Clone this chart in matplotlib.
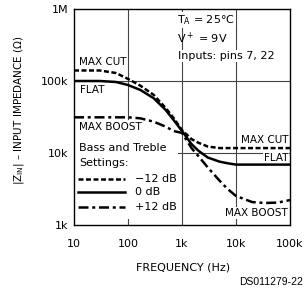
import matplotlib
matplotlib.use('Agg')
import matplotlib.pyplot as plt
from matplotlib.patches import Rectangle

# frequency (Hz) and input impedance (ohm)
freq = [10, 30, 60, 100, 170, 300, 500, 700, 1000, 1500, 2000, 3000, 5000,
        7000, 10000, 20000, 35000, 60000, 100000]
z_flat = [100e3, 100e3, 96.9e3, 88e3, 75e3, 57.5e3, 39.5e3, 28.7e3, 20.2e3,
          13.3e3, 10.8e3, 8.65e3, 7.57e3, 7.2e3, 6.9e3, 6.9e3, 6.9e3, 6.9e3, 6.9e3]
z_cut = [140e3, 140e3, 129e3, 107e3, 86e3, 64e3, 42e3, 30.6e3, 20.8e3,
         15.6e3, 13.9e3, 12.3e3, 11.7e3, 11.7e3, 11.7e3, 11.7e3, 11.7e3, 11.7e3, 11.7e3]
z_boost = [31.3e3, 31.3e3, 31.3e3, 31.3e3, 30.3e3, 27.2e3, 23.2e3, 20.2e3, 19e3,
           11.7e3, 9.1e3, 6.3e3, 4.1e3, 3.16e3, 2.53e3, 2.08e3, 2.02e3, 2.05e3, 2.22e3]

xticks = [10, 100, 1e3, 1e4, 1e5]
xlabels = ['10', '100', '1k', '10k', '100k']
yticks = [1e3, 1e4, 1e5, 1e6]
ylabels = ['1k', '10k', '100k', '1M']

plt.rcParams['font.family'] = 'DejaVu Sans'
plt.rcParams['mathtext.default'] = 'regular'

fig = plt.figure(figsize=(3.05, 2.93), dpi=100)
ax = fig.add_axes([74 / 305, 1 - 225 / 293, 216 / 305, 216 / 293])
ax.set_xscale('log')
ax.set_yscale('log')
ax.set_xlim(10, 1e5)
ax.set_ylim(1e3, 1e6)
ax.set_xticks(xticks)
ax.set_xticklabels(xlabels)
ax.set_yticks(yticks)
ax.set_yticklabels(ylabels)
ax.minorticks_off()
ax.tick_params(length=0, labelsize=8, colors='black')
ax.tick_params(axis='x', pad=10)
ax.tick_params(axis='y', pad=4)
for s in ax.spines.values():
    s.set_linewidth(1.0)

# grid, partly hidden behind the labels
for x in xticks[1:-1]:
    ax.axvline(x, color='#444444', lw=0.8, zorder=1)
for y in yticks[1:-1]:
    ax.axhline(y, color='#444444', lw=0.8, zorder=1)

# white block behind the legend text
ax.add_patch(Rectangle((0.004, 0.028), 0.477, 0.46, transform=ax.transAxes,
                       facecolor='white', edgecolor='none', zorder=1.5))

lw = 1.8
dash_cut = (2.0, 1.0)
dash_boost = (4.0, 1.5, 1.2, 1.5)
ax.plot(freq, z_cut, color='black', lw=lw, dashes=dash_cut, zorder=3)
ax.plot(freq, z_flat, color='black', lw=lw, zorder=3)
ax.plot(freq, z_boost, color='black', lw=lw, dashes=dash_boost, zorder=3)

wb = dict(facecolor='white', edgecolor='none', pad=0.6)
fs = 7.5
ax.text(0.023, 0.755, 'MAX CUT', transform=ax.transAxes, fontsize=fs, va='center', bbox=wb, zorder=2)
ax.text(0.028, 0.625, 'FLAT', transform=ax.transAxes, fontsize=fs, va='center', bbox=wb, zorder=2)
ax.text(0.023, 0.454, 'MAX BOOST', transform=ax.transAxes, fontsize=fs, va='center', bbox=wb, zorder=2)
ax.text(0.991, 0.394, 'MAX CUT', transform=ax.transAxes, fontsize=fs, va='center', ha='right', bbox=wb, zorder=2)
ax.text(0.991, 0.310, 'FLAT', transform=ax.transAxes, fontsize=fs, va='center', ha='right', bbox=wb, zorder=2)
ax.text(0.991, 0.056, 'MAX BOOST', transform=ax.transAxes, fontsize=fs, va='center', ha='right', bbox=wb, zorder=2)

ax.text(0.477, 0.949, r'T$_A$ = 25°C', transform=ax.transAxes, fontsize=8, va='center', bbox=wb, zorder=2)
ax.text(0.477, 0.866, r'V$^+$ = 9V', transform=ax.transAxes, fontsize=8, va='center', zorder=2)
ax.text(0.481, 0.782, 'Inputs: pins 7, 22', transform=ax.transAxes, fontsize=8, va='center', bbox=wb, zorder=2)

ax.text(0.023, 0.356, 'Bass and Treble', transform=ax.transAxes, fontsize=8, va='center', zorder=2)
ax.text(0.023, 0.287, 'Settings:', transform=ax.transAxes, fontsize=8, va='center', zorder=2)
leg_y = [0.213, 0.151, 0.085]
leg_txt = ['\u221212 dB', '0 dB', '+12 dB']
leg_dash = [dash_cut, None, dash_boost]
for yy, tt, dd in zip(leg_y, leg_txt, leg_dash):
    ln, = ax.plot([0.019, 0.236], [yy, yy], transform=ax.transAxes, color='black', lw=lw, zorder=3)
    if dd:
        ln.set_dashes(dd)
    ax.text(0.282, yy, tt, transform=ax.transAxes, fontsize=8, va='center', zorder=2)

fig.text(0.062, 0.625, '|Z$_{IN}$| \u2013 INPUT IMPEDANCE (\u03a9)',
         rotation=90, fontsize=7.5, ha='center', va='center')
fig.text(0.6, 0.0887, 'FREQUENCY (Hz)', fontsize=8, ha='center', va='center')
fig.text(0.993, 0.0375, 'DS011279-22', fontsize=7.5, ha='right', va='center', family='Liberation Sans')

fig.savefig('out.png', dpi=100)
